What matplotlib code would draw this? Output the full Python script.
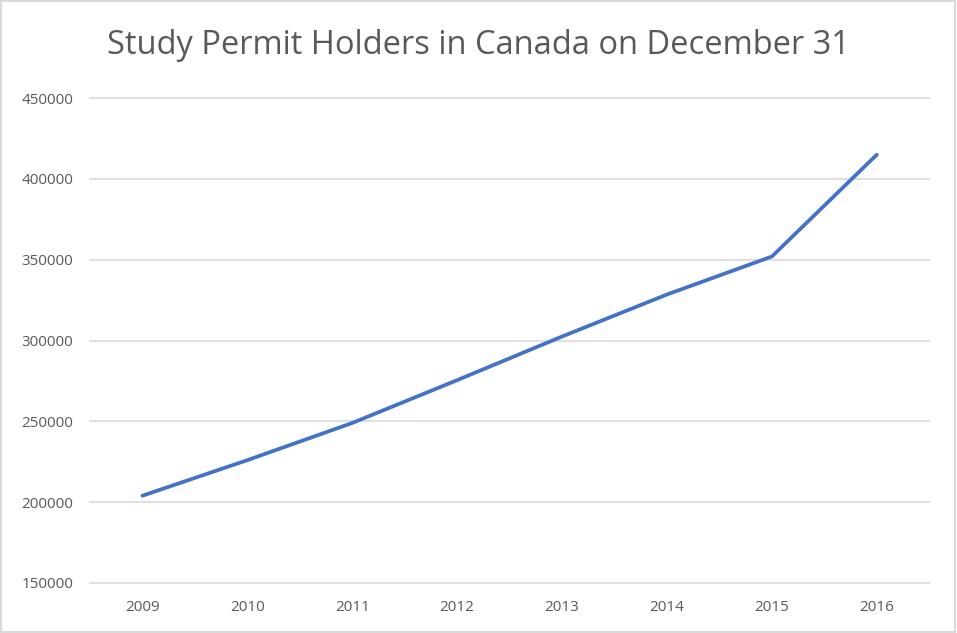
import matplotlib
matplotlib.use('Agg')
import matplotlib.pyplot as plt
from matplotlib.patches import Rectangle

years = ['2009', '2010', '2011', '2012', '2013', '2014', '2015', '2016']
holders = [204000, 226000, 249000, 275500, 302500, 328500, 352000, 415000]
yticks = [150000, 200000, 250000, 300000, 350000, 400000, 450000]

text_color = '#595959'
plt.rcParams['font.family'] = ['Open Sans', 'DejaVu Sans']

fig = plt.figure(figsize=(9.57, 6.33), dpi=100)
ax = fig.add_axes([0.094, 0.079, 0.877, 0.766])

x = list(range(len(years)))
ax.plot(x, holders, color='#4472C4', linewidth=2.7, solid_joinstyle='round', solid_capstyle='round')

ax.set_xlim(-0.5, len(years) - 0.5)
ax.set_ylim(150000, 450000)
ax.set_xticks(x)
ax.set_xticklabels(years)
ax.set_yticks(yticks)
ax.set_yticklabels([str(v) for v in yticks])
ax.tick_params(length=0, colors=text_color, labelsize=11)
ax.tick_params(axis='x', pad=12)
ax.tick_params(axis='y', pad=12)
ax.grid(axis='y', color='#D9D9D9', linewidth=1.2)
for gl in ax.get_ygridlines():
    gl.set_clip_on(False)
ax.set_axisbelow(True)
for s in ax.spines.values():
    s.set_visible(False)

fig.text(0.5, 0.928, 'Study Permit Holders in Canada on December 31',
         ha='center', va='center', fontsize=23.5, color=text_color)

# outer border
fig.patches.append(Rectangle((0.001, 0.001), 0.997, 0.997, transform=fig.transFigure,
                             fill=False, edgecolor='#D9D9D9', linewidth=1.5))

fig.savefig('out.png', dpi=100)
